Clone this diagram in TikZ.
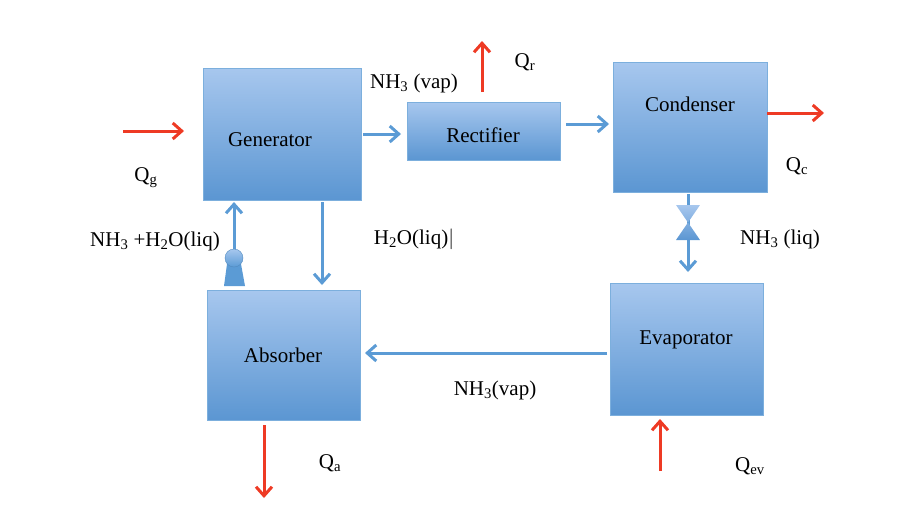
\documentclass[tikz,border=0pt]{standalone}
\usepackage{fontspec}
\setmainfont{Liberation Serif}
\usetikzlibrary{arrows.meta}
\definecolor{btop}{HTML}{A7C7EE}
\definecolor{bbot}{HTML}{5B96D2}
\definecolor{bline}{HTML}{5B9BD5}
\definecolor{ared}{HTML}{EE3A24}
\begin{document}
\begin{tikzpicture}[x=1pt,y=-1pt,
  box/.style={draw=bline!80,top color=btop,bottom color=bbot,line width=0.8pt},
  lbl/.style={font=\fontsize{21}{24}\selectfont},
  ba/.style={draw=bline,line width=3pt,-{Straight Barb[length=9pt,width=16pt,line width=3pt]}},
  ra/.style={draw=ared,line width=3pt,-{Straight Barb[length=9pt,width=16pt,line width=3pt]}}]
\useasboundingbox (0,0) rectangle (900,507);
\path[box] (203,68) rectangle (361,200); \node[lbl] (gen) at (270,140) {Generator};
\path[box] (407,102) rectangle (560,160); \node[lbl] (rec) at (483,135) {Rectifier};
\path[box] (613,62) rectangle (767,192); \node[lbl] (con) at (690,104) {Condenser};
\path[box] (610,283) rectangle (763,415); \node[lbl] (eva) at (686,340) {Evaporator};
\path[box] (207,290) rectangle (360,420); \node[lbl] (abs) at (283,355) {Absorber};
% blue flows
\coordinate (g1) at (363,134); \coordinate (g2) at (401,134);
\draw[ba] (g1) -- (g2);
\coordinate (r1) at (566,124); \coordinate (r2) at (609,124);
\draw[ba] (r1) -- (r2);
\coordinate (d1) at (322,202); \coordinate (d2) at (322,285);
\draw[ba] (d1) -- (d2);
\coordinate (p1) at (234,285); \coordinate (p2) at (234,202);
\draw[ba] (p1) -- (p2);
\coordinate (v1) at (688,194); \coordinate (v2) at (688,272);
\draw[ba] (v1) -- (v2);
\coordinate (e1) at (607,353); \coordinate (e2) at (365,353);
\draw[ba] (e1) -- (e2);
% pump
\fill[bline] (224,286) -- (227,264) -- (241,264) -- (245,286) -- cycle;
\shade[top color=btop,bottom color=bline] (234,258) circle (9);
\draw[bline!90!black,line width=0.4pt] (234,258) circle (9);
% valve
\shade[top color=btop,bottom color=bbot] (676,205) -- (700,205) -- (676,240) -- (700,240) -- cycle;
% red
\coordinate (qg1) at (123,131); \coordinate (qg2) at (184,131);
\draw[ra] (qg1) -- (qg2);
\coordinate (qc1) at (767,113); \coordinate (qc2) at (824,113);
\draw[ra] (qc1) -- (qc2);
\coordinate (qr1) at (482,92); \coordinate (qr2) at (482,41);
\draw[ra] (qr1) -- (qr2);
\coordinate (qa1) at (264,425); \coordinate (qa2) at (264,498);
\draw[ra] (qa1) -- (qa2);
\coordinate (qe1) at (660,471); \coordinate (qe2) at (660,419);
\draw[ra] (qe1) -- (qe2);
% labels
\node[lbl] (t1) at (414,83) {NH\textsubscript{3} (vap)};
\node[lbl] (t2) at (525,62) {Q\textsubscript{r}};
\node[lbl] (t3) at (146,178) {Q\textsubscript{g}};
\node[lbl] (t4) at (797,166) {Q\textsubscript{c}};
\node[lbl] (t5) at (155,241) {NH\textsubscript{3} +H\textsubscript{2}O(liq)};
\node[lbl] (t6) at (414,239) {H\textsubscript{2}O(liq)$|$};
\node[lbl] (t7) at (780,239) {NH\textsubscript{3} (liq)};
\node[lbl] (t8) at (495,390) {NH\textsubscript{3}(vap)};
\node[lbl] (t9) at (330,463) {Q\textsubscript{a}};
\node[lbl] (t10) at (750,466) {Q\textsubscript{ev}};
\end{tikzpicture}
\end{document}
